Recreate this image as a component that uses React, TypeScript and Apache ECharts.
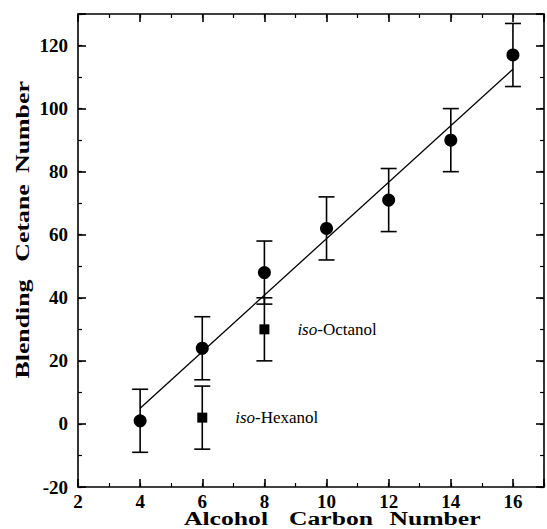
import React, { useEffect, useRef } from "react";
import * as echarts from "echarts";

const carbonNumbers = [4, 6, 8, 10, 12, 14, 16];
const cetaneNumbers = [1, 24, 48, 62, 71, 90, 117];
const cetaneErrors = [10, 10, 10, 10, 10, 10, 10];

const isoCarbon = [6, 8];
const isoCetane = [2, 30];
const isoErrors = [10, 10];
const isoNames = ["Hexanol", "Octanol"];

const fitX = [4, 16];
const fitY = [5, 112.5];

const xTitleWords = ["Alcohol", "Carbon", "Number"];
const yTitleWords = ["Blending", "Cetane", "Number"];

const SERIF = "'Liberation Serif', serif";
const tickFont = { fontFamily: SERIF, fontWeight: "bold" as const, fontSize: 19, color: "#000" };

export default function App() {
  const ref = useRef<HTMLDivElement>(null);
  useEffect(() => {
    if (!ref.current) return;
    const chart = echarts.init(ref.current, null, { renderer: "svg" });

    const errData = carbonNumbers.map((x, i) => [x, cetaneNumbers[i], cetaneErrors[i]]).concat(
      isoCarbon.map((x, i) => [x, isoCetane[i], isoErrors[i]])
    );

    const lineStyle = { color: "#000", width: 1.6 };
    const majorX = (pos: string, labels: boolean) => ({
      type: "value", position: pos, min: 2, max: 17, interval: 2,
      axisLine: { show: true, onZero: false, lineStyle },
      axisTick: { show: true, inside: true, length: 8, lineStyle },
      axisLabel: { show: labels, margin: 5, ...tickFont, formatter: (v: number) => (v > 16 ? "" : String(v)) },
      splitLine: { show: false },
    });
    const minorX = (pos: string) => ({
      type: "value", position: pos, min: 2, max: 17, interval: 1,
      axisLine: { show: false, onZero: false },
      axisTick: { show: true, inside: true, length: 4, lineStyle: { color: "#000", width: 1.2 } },
      axisLabel: { show: false },
      splitLine: { show: false },
    });
    const majorY = (pos: string, labels: boolean) => ({
      type: "value", position: pos, min: -20, max: 130, interval: 20,
      axisLine: { show: true, onZero: false, lineStyle },
      axisTick: { show: true, inside: true, length: 8, lineStyle },
      axisLabel: { show: labels, margin: 10, ...tickFont, formatter: (v: number) => (v > 120 ? "" : String(v)) },
      splitLine: { show: false },
    });
    const minorY = (pos: string) => ({
      type: "value", position: pos, min: -20, max: 130, interval: 10,
      axisLine: { show: false, onZero: false },
      axisTick: { show: true, inside: true, length: 4, lineStyle: { color: "#000", width: 1.2 } },
      axisLabel: { show: false },
      splitLine: { show: false },
    });

    const titleStyle = { align: "center", fontFamily: SERIF, fontWeight: "bold", fontSize: 19, fill: "#000" };
    const xWordCenters = [226, 331, 435];
    const yWordCenters = [329, 223, 127];

    chart.setOption({
      animation: false,
      grid: { left: 78, top: 14, right: 2, bottom: 42 },
      xAxis: [majorX("bottom", true), minorX("bottom"), majorX("top", false), minorX("top")],
      yAxis: [majorY("left", true), minorY("left"), majorY("right", false), minorY("right")],
      graphic: [
        ...xTitleWords.map((w, i) => ({
          type: "text", x: xWordCenters[i], y: 528, scaleX: 1.35,
          style: { ...titleStyle, verticalAlign: "bottom", text: w },
        })),
        ...yTitleWords.map((w, i) => ({
          type: "text", x: 23, y: yWordCenters[i], rotation: Math.PI / 2, scaleX: 1.36,
          style: { ...titleStyle, verticalAlign: "middle", text: w },
        })),
      ],
      series: [
        {
          type: "line", xAxisIndex: 0, yAxisIndex: 0,
          data: fitX.map((x, i) => [x, fitY[i]]),
          symbol: "none", lineStyle: { color: "#000", width: 1.3 }, silent: true,
        },
        {
          type: "custom", xAxisIndex: 0, yAxisIndex: 0,
          data: errData,
          renderItem: (params: any, api: any) => {
            const x = api.value(0), y = api.value(1), e = api.value(2);
            const top = api.coord([x, y + e]);
            const bot = api.coord([x, y - e]);
            const hw = 8;
            const st = { stroke: "#000", lineWidth: 1.6 };
            return {
              type: "group",
              children: [
                { type: "line", shape: { x1: top[0], y1: top[1], x2: bot[0], y2: bot[1] }, style: st },
                { type: "line", shape: { x1: top[0] - hw, y1: top[1], x2: top[0] + hw, y2: top[1] }, style: st },
                { type: "line", shape: { x1: bot[0] - hw, y1: bot[1], x2: bot[0] + hw, y2: bot[1] }, style: st },
              ],
            };
          },
        },
        {
          type: "scatter", xAxisIndex: 0, yAxisIndex: 0,
          data: carbonNumbers.map((x, i) => [x, cetaneNumbers[i]]),
          symbol: "circle", symbolSize: 13, itemStyle: { color: "#000", opacity: 1 },
        },
        {
          type: "scatter", xAxisIndex: 0, yAxisIndex: 0,
          data: isoCarbon.map((x, i) => ({ value: [x, isoCetane[i]], name: isoNames[i] })),
          symbol: "rect", symbolSize: 10, itemStyle: { color: "#000", opacity: 1 },
          label: {
            show: true, position: "right", distance: 28,
            formatter: (p: any) => `{i|iso}{n|-${p.name}}`,
            rich: {
              i: { fontFamily: SERIF, fontStyle: "italic", fontSize: 17, color: "#000" },
              n: { fontFamily: SERIF, fontSize: 17, color: "#000" },
            },
          },
        },
      ],
    });
    return () => chart.dispose();
  }, []);
  return <div ref={ref} style={{ position: "fixed", left: 0, top: 0, width: 547, height: 529, background: "#fff" }} />;
}
